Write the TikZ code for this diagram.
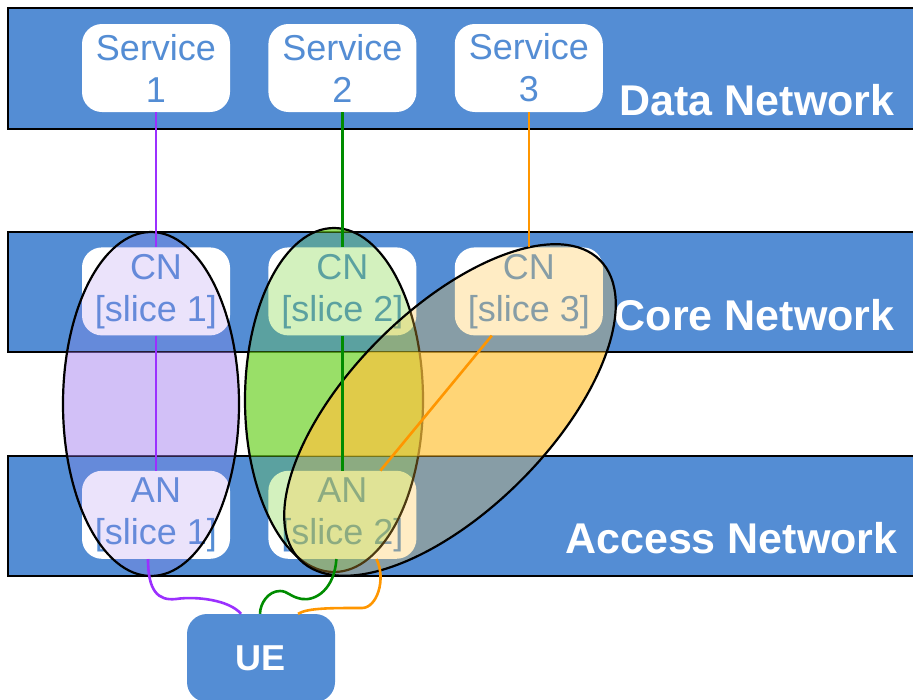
\documentclass[tikz,border=0pt]{standalone}
\usepackage{fontspec}
\setmainfont{Liberation Sans}
\usetikzlibrary{positioning}
\definecolor{netblue}{RGB}{84,141,212}
\definecolor{purpleslice}{RGB}{165,130,240}
\definecolor{greenslice}{RGB}{110,210,40}
\definecolor{orangeslice}{RGB}{255,195,60}
\definecolor{purpleline}{RGB}{155,48,255}
\definecolor{greenline}{RGB}{0,140,0}
\definecolor{orangeline}{RGB}{255,150,0}
\tikzset{
  net band/.style={fill=netblue, draw=black, line width=2.5pt},
  box node/.style={rectangle, rounded corners=20pt, fill=white, minimum width=148pt, minimum height=88pt, inner sep=0pt, align=center, text=netblue, font=\fontsize{36}{42}\selectfont},
  ue node/.style={box node, fill=netblue, text=white, font=\fontsize{36}{42}\selectfont\bfseries},
  net label/.style={anchor=base east, text=white, font=\fontsize{43}{50}\selectfont\bfseries},
  slice line/.style={line width=2.6pt},
  slice rim/.style={draw=black, line width=2.2pt},
}

\begin{document}
\begin{tikzpicture}[x=1pt, y=-1pt]
        \useasboundingbox (0,0) rectangle (913,699);
        \clip (0,0) rectangle (913,699);
        % Bands
        \draw[net band] (8,8) rectangle (930,129);
        \draw[net band] (8,232) rectangle (930,352);
        \draw[net band] (8,456) rectangle (930,576);
        % Nodes
        \node[box node] (s1) at (156,68) {Service\\1};
        \node[box node] [right = 38pt of s1] (s2) {Service\\2};
        \node[box node] [right = 38pt of s2] (s3) {Service\\3};
        \node[box node] [below = 135pt of s1] (cn1) {CN\\{[slice 1]}};
        \node[box node] [below = 135pt of s2] (cn2) {CN\\{[slice 2]}};
        \node[box node] [below = 135pt of s3] (cn3) {CN\\{[slice 3]}};
        \node[box node] [below = 135pt of cn1] (an1) {AN\\{[slice 1]}};
        \node[box node] [below = 135pt of cn2] (an2) {AN\\{[slice 2]}};
        \node[ue node] (ue) at (261,658) {UE};
        \node[net label] (dn) at (898,115) {Data Network};
        \node[net label] (cnet) at (898,330) {Core Network};
        \node[net label] (anet) at (901,553) {Access Network};
        % Slices
        \foreach \cx/\cy/\rx/\ry/\rot/\col/\gapop/\bandop in {151/404/88/172/0/purpleslice/.5/.22, 334/400/89/172/0/greenslice/.7/.3, 450/410/212/100/45/orangeslice/.7/.3}{
          \begin{scope}
            \clip (0,232) rectangle (913,352) (0,456) rectangle (913,576);
            \fill[fill=\col, fill opacity=\bandop, rotate around={\rot:(\cx,\cy)}] (\cx,\cy) ellipse [x radius=\rx, y radius=\ry];
          \end{scope}
          \begin{scope}
            \clip (0,0) rectangle (913,232) (0,352) rectangle (913,456) (0,576) rectangle (913,699);
            \fill[fill=\col, fill opacity=\gapop, rotate around={\rot:(\cx,\cy)}] (\cx,\cy) ellipse [x radius=\rx, y radius=\ry];
          \end{scope}
          \draw[slice rim, rotate around={\rot:(\cx,\cy)}] (\cx,\cy) ellipse [x radius=\rx, y radius=\ry];
        }
        % Paths
        \draw[slice line, purpleline] (s1) -- (cn1) -- (an1);
        \draw[slice line, greenline] (s2) -- (cn2) -- (an2);
        \draw[slice line, orangeline] (s3) -- (cn3);
        \draw[slice line, orangeline] ([xshift=-37pt]cn3.south) -- ([xshift=38pt]an2.north);
        \draw[slice line, purpleline] ([xshift=-8pt]an1.south) .. controls +(0,32) and +(-18,2) .. (176,599) .. controls +(20,-3) and +(-12,-14) .. ([xshift=-20pt]ue.north);
        \draw[slice line, greenline] ([xshift=-6pt]an2.south) .. controls +(-2,30) and +(14,2) .. (302,599) .. controls +(-12,-2) and +(8,0) .. (280,591) .. controls +(-12,0) and +(0,-10) .. ([xshift=-1pt]ue.north);
        \draw[slice line, orangeline] ([xshift=34pt]an2.south) .. controls +(10,20) and +(15,0) .. (362,608) .. controls +(-30,0) and +(10,-6) .. ([xshift=37pt]ue.north);
\end{tikzpicture}
\end{document}
